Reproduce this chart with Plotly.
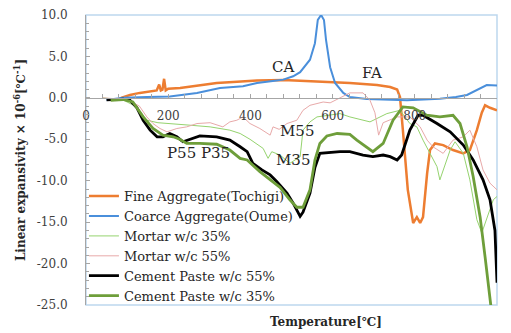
import plotly.graph_objects as go

# ---------------- data ----------------
fa_x = [85, 107, 131, 150, 172, 178, 182, 186, 190, 194, 200, 229, 270, 318, 358, 416, 480, 561, 642, 708, 740, 757,
        764, 771, 783, 796, 805, 813, 820, 830, 837, 849, 869, 893, 918, 934, 951, 963, 971, 983, 1000]
fa_y = [0.0, 0.35, 0.6, 0.7, 0.9, 1.6, 0.9, 1.0, 2.3, 0.9, 1.1, 1.2, 1.45, 1.8, 1.9, 2.1, 2.15, 2.0, 1.8, 1.55, 1.3, 1.0,
        0.1, -3.9, -11.1, -15.1, -14.4, -15.1, -14.4, -9.1, -6.3, -5.5, -5.7, -6.3, -6.7, -6.3, -3.9, -1.8, -0.9, -1.2, -1.5]

ca_x = [50, 90, 148, 204, 270, 326, 382, 416, 464, 480, 504, 521, 545, 557, 564, 572, 579, 584, 594, 606, 626, 642,
        683, 740, 781, 861, 900, 927, 959, 975, 1000]
ca_y = [-0.25, 0.0, 0.1, 0.15, 0.6, 1.2, 1.4, 1.8, 2.1, 2.2, 2.6, 3.1, 4.6, 6.6, 9.4, 10.0, 9.4, 7.0, 3.7, 1.8, 0.6, 0.1,
        -0.15, -0.25, -0.3, -0.1, 0.1, 0.35, 1.2, 1.55, 1.5]

m35_x = [40, 90, 124, 148, 175, 212, 253, 302, 350, 375, 399, 431, 443, 452, 472, 496, 521, 528, 545, 562, 586, 618,
         642, 691, 732, 764, 788, 805, 820, 837, 854, 861, 874, 886, 898, 918, 934, 951, 963, 976, 991, 1000]
m35_y = [0.0, -0.25, -1.1, -2.7, -3.0, -3.1, -3.3, -3.5, -3.9, -4.3, -5.0, -6.1, -7.3, -6.5, -6.9, -7.9, -7.1, -3.9,
         -2.9, -2.3, -2.1, -1.9, -2.3, -2.9, -1.9, -1.5, -3.1, -3.5, -5.1, -6.7, -8.3, -9.9, -7.9, -6.3, -5.3, -6.7,
         -9.9, -14.7, -16.3, -14.4, -12.3, -11.9]

m55_x = [40, 100, 130, 148, 163, 180, 197, 221, 245, 270, 302, 333, 350, 367, 382, 399, 423, 448, 455, 470, 489, 513,
         528, 545, 577, 594, 618, 642, 674, 691, 703, 712, 723, 757, 788, 813, 830, 844, 869, 893, 918, 934, 951, 966,
         983, 1000]
m55_y = [0.0, -0.2, -1.0, -2.3, -3.1, -3.7, -4.1, -3.7, -3.5, -3.1, -3.0, -3.5, -2.9, -2.7, -2.3, -3.1, -3.7, -4.5,
         -3.5, -3.8, -3.1, -2.7, -1.5, -0.9, -0.5, -0.6, 0.0, 0.6, 0.6, -0.3, -1.8, -4.5, -3.0, -2.3, -2.3, -3.5, -5.1,
         -5.9, -6.7, -5.1, -4.7, -3.9, -5.9, -8.7, -10.3, -11.1]

p55_x = [50, 90, 107, 124, 139, 156, 173, 187, 204, 221, 236, 253, 277, 318, 350, 375, 392, 406, 428, 448, 464, 489,
         504, 521, 528, 545, 557, 569, 586, 618, 642, 674, 698, 723, 740, 757, 768, 788, 808, 820, 854, 886, 918, 942,
         966, 983, 995, 1000]
p55_y = [-0.25, -0.15, -0.3, -1.2, -2.7, -3.9, -4.7, -4.7, -4.3, -4.7, -5.3, -5.0, -4.6, -4.7, -5.1, -5.9, -6.5, -7.9,
         -8.7, -9.3, -10.1, -11.5, -12.7, -14.3, -13.8, -11.5, -8.4, -6.7, -6.6, -6.5, -6.5, -6.9, -7.1, -6.9, -7.1,
         -7.5, -6.9, -3.9, -2.1, -2.1, -3.1, -4.1, -5.7, -7.5, -9.9, -12.3, -16.0, -22.3]

p35_x = [60, 90, 114, 139, 163, 187, 212, 228, 245, 277, 318, 350, 375, 392, 423, 448, 472, 496, 513, 528, 545, 557,
         569, 586, 611, 642, 659, 698, 723, 747, 771, 796, 829, 861, 893, 910, 927, 942, 959, 971, 985, 992]
p35_y = [-0.3, -0.2, -0.5, -2.3, -3.7, -4.5, -4.7, -5.0, -5.5, -5.5, -5.6, -6.3, -7.3, -7.5, -8.9, -9.9, -10.8, -12.3,
         -13.2, -13.2, -11.1, -7.5, -5.5, -4.6, -4.3, -4.4, -5.1, -6.5, -5.5, -2.7, -1.1, -1.2, -2.1, -2.3, -2.1, -3.1,
         -5.9, -9.5, -14.4, -19.2, -25.0, -28.0]

series_names = ["Fine Aggregate(Tochigi)", "Coarce Aggregate(Oume)", "Mortar w/c 35%",
                "Mortar w/c 55%", "Cement Paste w/c 55%", "Cement Paste w/c 35%"]

x_ticks = [0, 200, 400, 600, 800, 1000]
y_ticks = [10, 5, 0, -5, -10, -15, -20, -25]
y_ticklabels = ["10.0", "5.0", "0.0", "-5.0", "-10.0", "-15.0", "-20.0", "-25.0"]

labels_text = ["CA", "FA", "M55", "M35", "P55 P35"]
labels_x = [479, 696, 513, 504, 273]
labels_y = [3.7, 3.0, -4.05, -7.5, -6.7]

# ---------------- figure ----------------
FONT = "DejaVu Serif"
styles = [
    dict(color="#ED7D31", width=2.5),
    dict(color="#4A8FDB", width=2),
    dict(color="#95D36E", width=1),
    dict(color="#E8A9A9", width=1),
    dict(color="#000000", width=2.8),
    dict(color="#6E9E3A", width=2.8),
]
xs = [fa_x, ca_x, m35_x, m55_x, p55_x, p35_x]
ys = [fa_y, ca_y, m35_y, m55_y, p55_y, p35_y]

fig = go.Figure()
for name, x, y, st in zip(series_names, xs, ys, styles):
    fig.add_trace(go.Scatter(x=x, y=y, mode="lines", name=name, line=st))

for t, lx, ly in zip(labels_text, labels_x, labels_y):
    fig.add_annotation(x=lx, y=ly, text=t, showarrow=False,
                       font=dict(family=FONT, size=15, color="#262626"))

fig.add_annotation(x=584, y=-25, xref="x", yref="y", yshift=-17, yanchor="middle",
                   text="<b>Temperature[℃]</b>", showarrow=False,
                   font=dict(family=FONT, size=12, color="#262626"))

zero_pos = 25 / 35
fig.update_layout(
    width=503, height=325,
    margin=dict(l=78, r=14, t=7, b=28, autoexpand=False),
    paper_bgcolor="white", plot_bgcolor="white",
    font=dict(family=FONT, size=12, color="#404040"),
    showlegend=True,
    legend=dict(x=-0.005, y=0.427, xanchor="left", yanchor="top", bgcolor="rgba(0,0,0,0)",
                font=dict(family=FONT, size=13, color="#262626"), itemwidth=30,
                tracegroupgap=0),
    xaxis=dict(range=[0, 1000], anchor="free", position=zero_pos, automargin=False,
               tickvals=x_ticks, ticks="inside", ticklen=4, tickcolor="#A6A6A6",
               minor=dict(dtick=40, ticks="inside", ticklen=4, tickcolor="#A6A6A6"),
               showline=True, linecolor="#A6A6A6", linewidth=1,
               showgrid=False, zeroline=False, ticklabelstandoff=7,
               tickfont=dict(family=FONT, size=12, color="#404040")),
    yaxis=dict(range=[-25, 10], tickvals=y_ticks, ticktext=y_ticklabels, automargin=False,
               ticks="inside", ticklen=4, tickcolor="#A6A6A6",
               minor=dict(dtick=1, ticks="inside", ticklen=3, tickcolor="#A6A6A6"),
               showline=True, linecolor="#A6A6A6", linewidth=1,
               showgrid=False, zeroline=False, ticklabelstandoff=15,
               tickfont=dict(family=FONT, size=12, color="#404040"),
               title=dict(text="<b>Linear expansivity × 10<sup>-6</sup>[℃<sup>-1</sup>]</b>",
                          font=dict(family=FONT, size=12, color="#262626"), standoff=8)),
)

fig.add_shape(type="rect", xref="paper", yref="paper", x0=0, y0=0, x1=1, y1=1,
              line=dict(color="#BDD7EE", width=1.5), layer="below")

fig.write_html("out.html")
